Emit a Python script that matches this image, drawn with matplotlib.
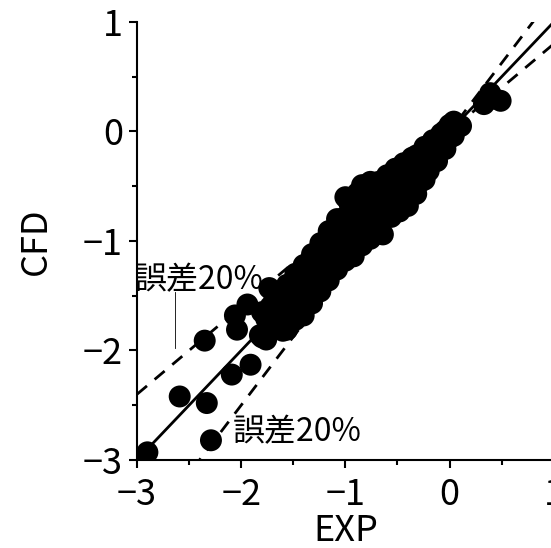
import numpy as np
import matplotlib
matplotlib.use("Agg")
import matplotlib.pyplot as plt
from matplotlib.ticker import MultipleLocator

plt.rcParams["font.family"] = ["Noto Sans CJK JP", "DejaVu Sans"]

# scattered points away from the main band
exp_out = [-2.90, -2.59, -2.33, -2.29, -2.35, -2.09, -1.91, -2.04, -1.82, -2.06, -1.94, -1.73,
           0.33, 0.39, 0.42, 0.49]
cfd_out = [-2.93, -2.42, -2.48, -2.82, -1.91, -2.22, -2.13, -1.81, -1.86, -1.68, -1.58, -1.43,
           0.25, 0.35, 0.30, 0.28]

# main band of measured (EXP) vs. computed (CFD) values
exp_band = [-1.80, -1.80, -1.76, -1.76, -1.72, -1.68, -1.68, -1.64, -1.64,
            -1.60, -1.60, -1.60, -1.56, -1.56, -1.56, -1.52, -1.52,
            -1.48, -1.48, -1.48, -1.44, -1.44, -1.40, -1.40, -1.40,
            -1.36, -1.36, -1.32, -1.32, -1.32, -1.28, -1.28,
            -1.24, -1.24, -1.24, -1.20, -1.20, -1.16, -1.16, -1.16,
            -1.12, -1.12, -1.08, -1.08, -1.08, -1.04, -1.04,
            -1.00, -1.00, -1.00, -1.00, -0.96, -0.96, -0.96,
            -0.92, -0.92, -0.92, -0.88, -0.88, -0.88,
            -0.84, -0.84, -0.84, -0.84, -0.80, -0.80, -0.80,
            -0.76, -0.76, -0.76, -0.76, -0.72, -0.72, -0.72,
            -0.68, -0.68, -0.68, -0.68, -0.64, -0.64, -0.64,
            -0.60, -0.60, -0.60, -0.56, -0.56, -0.56, -0.52, -0.52, -0.52,
            -0.48, -0.48, -0.48, -0.44, -0.44, -0.44, -0.40, -0.40, -0.40,
            -0.36, -0.36, -0.36, -0.32, -0.32, -0.32, -0.28, -0.28, -0.28,
            -0.24, -0.24, -0.24, -0.20, -0.20, -0.20, -0.16, -0.16,
            -0.12, -0.12, -0.12, -0.08, -0.08, -0.04, -0.04, -0.04,
            0.00, 0.00, 0.04, 0.04, 0.08, 0.11]
cfd_band = [-1.65, -1.88, -1.71, -1.90, -1.60, -1.70, -1.52, -1.56, -1.79,
            -1.48, -1.65, -1.82, -1.40, -1.56, -1.81, -1.44, -1.64,
            -1.30, -1.48, -1.72, -1.38, -1.59, -1.22, -1.45, -1.68,
            -1.26, -1.54, -1.12, -1.34, -1.57, -1.18, -1.43,
            -1.02, -1.24, -1.46, -1.08, -1.32, -0.91, -1.14, -1.36,
            -0.98, -1.22, -0.80, -1.03, -1.26, -0.89, -1.12,
            -0.60, -0.78, -1.00, -1.18, -0.66, -0.88, -1.08,
            -0.74, -0.97, -1.14, -0.56, -0.78, -1.00,
            -0.49, -0.64, -0.86, -1.04, -0.52, -0.72, -0.95,
            -0.46, -0.61, -0.81, -0.98, -0.47, -0.67, -0.87,
            -0.46, -0.58, -0.76, -0.93, -0.46, -0.66, -0.94,
            -0.40, -0.55, -0.75, -0.41, -0.61, -0.78, -0.34, -0.50, -0.70,
            -0.36, -0.56, -0.73, -0.29, -0.44, -0.66, -0.30, -0.50, -0.68,
            -0.24, -0.38, -0.56, -0.22, -0.44, -0.57, -0.20, -0.33, -0.46,
            -0.14, -0.34, -0.44, -0.14, -0.24, -0.36, -0.08, -0.26,
            -0.07, -0.17, -0.27, -0.02, -0.16, 0.01, -0.08, -0.16,
            0.06, -0.06, 0.09, -0.04, 0.06, 0.05]

line_x = np.array([-3.0, 1.0])
err_label = "誤差20%"

fig = plt.figure(figsize=(5.51, 5.48), dpi=100)
ax = fig.add_axes([0.2486, 0.1606, 0.7564, 0.7993])

ax.scatter(exp_band + exp_out, cfd_band + cfd_out, s=250, c="black",
           edgecolors="none", zorder=3)
ax.plot(line_x, line_x, color="black", lw=2, zorder=2)
ax.plot(line_x, 0.8 * line_x, color="black", lw=2, dashes=(4.7, 3.6), zorder=2)
ax.plot(line_x, 1.25 * line_x, color="black", lw=2, dashes=(4.7, 3.6), zorder=2)

ax.text(-3.02, -1.36, err_label, fontsize=23, va="center", ha="left", zorder=4)
ax.plot([-2.635, -2.635], [-1.47, -1.98], color="black", lw=0.6)
ax.text(-2.08, -2.75, err_label, fontsize=23, va="center", ha="left", zorder=4)

ax.set_xlim(-3, 1)
ax.set_ylim(-3, 1)
ax.xaxis.set_major_locator(MultipleLocator(1))
ax.xaxis.set_minor_locator(MultipleLocator(0.5))
ax.yaxis.set_major_locator(MultipleLocator(1))
ax.yaxis.set_minor_locator(MultipleLocator(0.5))

for side in ["top", "right"]:
    ax.spines[side].set_visible(False)
for side in ["left", "bottom"]:
    ax.spines[side].set_linewidth(1.5)

ax.tick_params(which="major", direction="out", length=6, width=1.5, labelsize=26, pad=4)
ax.tick_params(axis="x", which="major", pad=6)
ax.tick_params(which="minor", direction="out", length=3.5, width=1.5)

ax.set_xlabel("EXP", fontsize=26, labelpad=0)
ax.set_ylabel("CFD", fontsize=26, labelpad=21)

fig.savefig("out.png", dpi=100)
